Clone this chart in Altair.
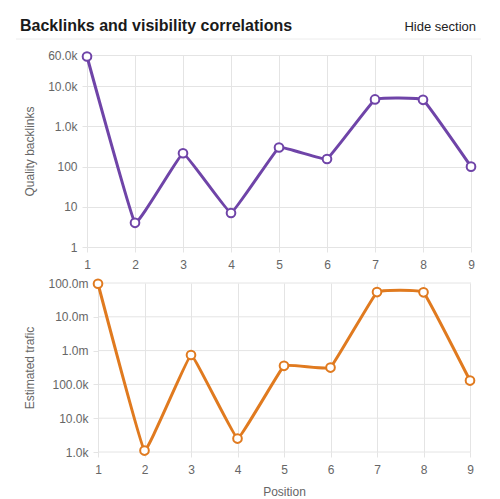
import altair as alt
import pandas as pd

positions = [1, 2, 3, 4, 5, 6, 7, 8, 9]
backlinks = [55000, 4, 215, 7, 300, 155, 4700, 4600, 100]
traffic = [95000000, 1100, 740000, 2500, 355000, 315000, 54000000, 53000000, 130000]
backlink_ticks = [1, 10, 100, 1000, 10000, 60000]
traffic_ticks = [1000, 10000, 100000, 1000000, 10000000, 100000000]

title_text = "Backlinks and visibility correlations"
hide_text = "Hide section"

PURPLE = "#6f44a8"
ORANGE = "#e07a1f"
GRID = "#e4e4e4"
FONT = "Liberation Sans"

df1 = pd.DataFrame({"Position": positions, "Quality backlinks": backlinks})
df2 = pd.DataFrame({"Position": positions, "Estimated traffic": traffic})
grid2 = pd.DataFrame({"Estimated traffic": traffic_ticks})

# ---------------- top panel ----------------
top_x = alt.X(
    "Position:Q",
    scale=alt.Scale(domain=[1, 9], nice=False, zero=False),
    axis=alt.Axis(values=positions, format="d", title=None, labelFlush=False),
)
top_y = alt.Y(
    "Quality backlinks:Q",
    scale=alt.Scale(type="log", domain=[1, 60000], nice=False),
    axis=alt.Axis(
        values=backlink_ticks,
        labelExpr="datum.value >= 1000 ? format(datum.value/1000, '.1f') + 'k' : format(datum.value, 'd')",
        titlePadding=11, labelPadding=5,
    ),
)

one = pd.DataFrame({"t": [0]})

top_base = alt.Chart(df1).encode(x=top_x, y=top_y)
top_line = top_base.mark_line(color=PURPLE, strokeWidth=3, interpolate="cardinal", tension=0.8)
top_pts = top_base.mark_point(shape="circle", size=75, filled=True, fill="white",
                              stroke=PURPLE, strokeWidth=2, opacity=1)

title_mark = alt.Chart(pd.DataFrame({"t": [title_text]})).mark_text(
    align="left", baseline="alphabetic", fontSize=16, fontWeight="bold", font=FONT, color="#1a1a1a"
).encode(x=alt.value(-67), y=alt.value(-24), text="t:N")
hide_mark = alt.Chart(pd.DataFrame({"t": [hide_text]})).mark_text(
    align="right", baseline="alphabetic", fontSize=13, font=FONT, color="#222222"
).encode(x=alt.value(389), y=alt.value(-24), text="t:N")
sep = alt.Chart(one).mark_rule(color="#ececec", strokeWidth=1).encode(
    x=alt.value(-71), x2=alt.value(394), y=alt.value(-16)
)

top = alt.layer(sep, title_mark, hide_mark, top_line, top_pts).properties(width=384, height=192)

# ---------------- bottom panel ----------------
bot_x = alt.X(
    "Position:Q",
    scale=alt.Scale(domain=[1, 9], nice=False, zero=False, range=[11, 383]),
    axis=alt.Axis(values=positions, format="d", title="Position", labelFlush=False,
                  titlePadding=11),
)
bot_y = alt.Y(
    "Estimated traffic:Q",
    title="Estimated trafic",
    scale=alt.Scale(type="log", domain=[1000, 100000000], nice=False),
    axis=alt.Axis(
        values=traffic_ticks, grid=False, offset=-11,
        labelExpr="datum.value >= 1000000 ? format(datum.value/1000000, '.1f') + 'm' : format(datum.value/1000, '.1f') + 'k'",
        titlePadding=11, labelPadding=5,
    ),
)

bot_grid = alt.Chart(grid2).mark_rule(color=GRID, strokeWidth=1).encode(
    y=bot_y, x=alt.value(11), x2=alt.value(384)
)
bot_base = alt.Chart(df2).encode(x=bot_x, y=bot_y)
bot_line = bot_base.mark_line(color=ORANGE, strokeWidth=3, interpolate="cardinal", tension=0.8)
bot_pts = bot_base.mark_point(shape="circle", size=75, filled=True, fill="white",
                              stroke=ORANGE, strokeWidth=2, opacity=1)
bot = alt.layer(bot_grid, bot_line, bot_pts).properties(width=384, height=169)

chart = alt.vconcat(top, bot, spacing=5).properties(
    padding={"left": 7, "top": 10, "right": 5, "bottom": 0}
).configure_view(strokeWidth=0).configure_axis(
    labelFont=FONT, labelFontSize=12, labelColor="#666666",
    titleFont=FONT, titleFontSize=12, titleFontWeight="normal", titleColor="#666666",
    gridColor=GRID, tickColor=GRID, tickSize=5, domain=False,
).configure_axisX(labelPadding=7)

chart.save("out.html", embed_options={"renderer": "svg", "actions": False})
